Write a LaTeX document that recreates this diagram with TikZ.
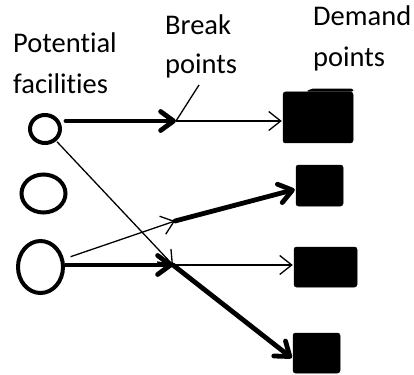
\documentclass[tikz,border=0pt]{standalone}
\usepackage{fontspec}
\setmainfont{Carlito}[Ligatures={NoCommon}]
\usetikzlibrary{arrows.meta,calc,shapes.geometric}
\begin{document}
\begin{tikzpicture}[x=1pt,y=-1pt,
  fac/.style={draw=black,line width=4pt,ellipse,inner sep=0pt},
  dsq/.style={fill=black,draw=black,line width=0.5pt,rounded corners=2.5pt,inner sep=0pt},
  lbl/.style={anchor=base west,inner sep=0pt,font=\fontsize{28.5}{34}\selectfont},
  heavy/.style={line width=4.8pt,line cap=round,line join=round,
    -{Straight Barb[length=13pt,width=19pt,line join=round,line cap=round]}},
  light/.style={line width=1.3pt,
    -{Straight Barb[length=12pt,width=19pt]}},
  plain/.style={line width=1.3pt}
]
\useasboundingbox (0,0) rectangle (414,374);
% labels
\node[lbl] (t1) at (13,53) {Potential};
\node[lbl] (t2) at (13,94) {facilities};
\node[lbl] (t3) at (165,35) {Break};
\node[lbl] (t4) at (165,74) {points};
\node[lbl] (t5) at (313,26) {Demand};
\node[lbl] (t6) at (313,67) {points};
% facilities
\node[fac,minimum width=30pt,minimum height=28pt] (f1) at (45,129) {};
\node[fac,minimum width=44pt,minimum height=38pt] (f2) at (43.5,193.5) {};
\node[fac,minimum width=45pt,minimum height=52pt] (f3) at (40.5,267) {};
% demand points
\node[dsq,minimum width=70pt,minimum height=51pt] (d1) at (318,117.5) {};
\fill[rounded corners=2pt] (d1.north east) -- ++(0,-3) -- ++(-43,0) -- ++(-4,3) -- cycle;
\node[dsq,minimum width=47pt,minimum height=41pt] (d2) at (319.5,185.5) {};
\node[dsq,minimum width=63pt,minimum height=40pt] (d3) at (325.5,267) {};
\node[dsq,minimum width=47pt,minimum height=40pt] (d4) at (316.5,353) {};
% break points
\coordinate (b1) at (176,121);
\coordinate (b2) at (173,265);
\coordinate (b3) at (175,221);
\coordinate (c1) at (199,85);
% connectors
\draw[heavy] ([xshift=4pt]f1.east |- b1) -- (b1);
\draw[light] (b1) -- ([xshift=-1pt]d1.west |- b1);
\draw[plain] (c1) -- (b1);
\draw[light,shorten <=1pt] (f1) -- (b2);
\draw[heavy] ([xshift=1pt]f3.east |- b2) -- (b2);
\draw[light] (b2) -- ([xshift=-1pt]d3.west |- b2);
\draw[heavy] (b2) -- ([xshift=-1pt,yshift=-5pt]d4.west);
\draw[light,shorten <=7pt] (f3) -- (b3);
\draw[heavy] (b3) -- ([xshift=-1pt,yshift=-4pt]d2.west);
\end{tikzpicture}
\end{document}
